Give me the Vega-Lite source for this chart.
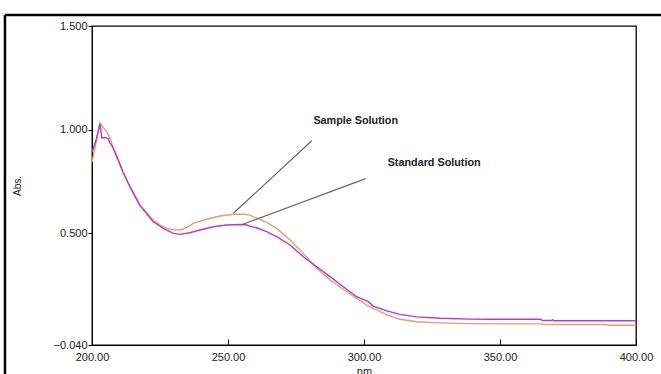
{
  "$schema": "https://vega.github.io/schema/vega-lite/v6.json",
  "width": 544,
  "height": 319,
  "autosize": "none",
  "padding": {"left": 92, "top": 26, "right": 25, "bottom": 29},
  "background": "white",
  "config": {
    "view": {"stroke": "black", "strokeWidth": 1.3},
    "font": "Liberation Sans",
    "axis": {"grid": false, "labelFont": "Liberation Sans", "titleFont": "Liberation Sans", "labelColor": "#222", "titleColor": "#222", "domainColor": "black", "tickColor": "black", "titleFontWeight": "normal"}
  },
  "datasets": {
    "spectra": [
      {"nm": 200.0, "abs": 0.843, "solution": "Sample Solution"},
      {"nm": 201.5, "abs": 0.94, "solution": "Sample Solution"},
      {"nm": 202.9, "abs": 1.033, "solution": "Sample Solution"},
      {"nm": 203.8, "abs": 1.015, "solution": "Sample Solution"},
      {"nm": 204.8, "abs": 1.0, "solution": "Sample Solution"},
      {"nm": 205.5, "abs": 0.988, "solution": "Sample Solution"},
      {"nm": 206.6, "abs": 0.96, "solution": "Sample Solution"},
      {"nm": 207.7, "abs": 0.916, "solution": "Sample Solution"},
      {"nm": 209.2, "abs": 0.867, "solution": "Sample Solution"},
      {"nm": 211.4, "abs": 0.795, "solution": "Sample Solution"},
      {"nm": 214.0, "abs": 0.723, "solution": "Sample Solution"},
      {"nm": 217.6, "abs": 0.636, "solution": "Sample Solution"},
      {"nm": 220.2, "abs": 0.597, "solution": "Sample Solution"},
      {"nm": 222.5, "abs": 0.563, "solution": "Sample Solution"},
      {"nm": 225.0, "abs": 0.539, "solution": "Sample Solution"},
      {"nm": 227.5, "abs": 0.523, "solution": "Sample Solution"},
      {"nm": 230.0, "abs": 0.516, "solution": "Sample Solution"},
      {"nm": 232.4, "abs": 0.515, "solution": "Sample Solution"},
      {"nm": 233.6, "abs": 0.52, "solution": "Sample Solution"},
      {"nm": 236.0, "abs": 0.536, "solution": "Sample Solution"},
      {"nm": 237.2, "abs": 0.547, "solution": "Sample Solution"},
      {"nm": 242.2, "abs": 0.567, "solution": "Sample Solution"},
      {"nm": 247.1, "abs": 0.583, "solution": "Sample Solution"},
      {"nm": 252.0, "abs": 0.591, "solution": "Sample Solution"},
      {"nm": 255.6, "abs": 0.591, "solution": "Sample Solution"},
      {"nm": 258.1, "abs": 0.587, "solution": "Sample Solution"},
      {"nm": 259.3, "abs": 0.579, "solution": "Sample Solution"},
      {"nm": 262.0, "abs": 0.565, "solution": "Sample Solution"},
      {"nm": 264.5, "abs": 0.55, "solution": "Sample Solution"},
      {"nm": 267.9, "abs": 0.523, "solution": "Sample Solution"},
      {"nm": 272.8, "abs": 0.467, "solution": "Sample Solution"},
      {"nm": 277.7, "abs": 0.402, "solution": "Sample Solution"},
      {"nm": 282.6, "abs": 0.33, "solution": "Sample Solution"},
      {"nm": 287.5, "abs": 0.274, "solution": "Sample Solution"},
      {"nm": 292.4, "abs": 0.229, "solution": "Sample Solution"},
      {"nm": 297.3, "abs": 0.185, "solution": "Sample Solution"},
      {"nm": 301.0, "abs": 0.153, "solution": "Sample Solution"},
      {"nm": 303.4, "abs": 0.137, "solution": "Sample Solution"},
      {"nm": 308.4, "abs": 0.105, "solution": "Sample Solution"},
      {"nm": 313.2, "abs": 0.084, "solution": "Sample Solution"},
      {"nm": 319.4, "abs": 0.072, "solution": "Sample Solution"},
      {"nm": 327.9, "abs": 0.067, "solution": "Sample Solution"},
      {"nm": 339.0, "abs": 0.063, "solution": "Sample Solution"},
      {"nm": 350.0, "abs": 0.062, "solution": "Sample Solution"},
      {"nm": 365.0, "abs": 0.062, "solution": "Sample Solution"},
      {"nm": 366.0, "abs": 0.059, "solution": "Sample Solution"},
      {"nm": 389.0, "abs": 0.059, "solution": "Sample Solution"},
      {"nm": 390.0, "abs": 0.055, "solution": "Sample Solution"},
      {"nm": 400.0, "abs": 0.055, "solution": "Sample Solution"},
      {"nm": 200.0, "abs": 0.892, "solution": "Standard Solution"},
      {"nm": 201.5, "abs": 0.95, "solution": "Standard Solution"},
      {"nm": 203.0, "abs": 1.027, "solution": "Standard Solution"},
      {"nm": 203.6, "abs": 0.96, "solution": "Standard Solution"},
      {"nm": 204.5, "abs": 0.962, "solution": "Standard Solution"},
      {"nm": 205.9, "abs": 0.958, "solution": "Standard Solution"},
      {"nm": 206.6, "abs": 0.935, "solution": "Standard Solution"},
      {"nm": 207.7, "abs": 0.914, "solution": "Standard Solution"},
      {"nm": 209.2, "abs": 0.867, "solution": "Standard Solution"},
      {"nm": 211.4, "abs": 0.795, "solution": "Standard Solution"},
      {"nm": 214.0, "abs": 0.723, "solution": "Standard Solution"},
      {"nm": 217.6, "abs": 0.634, "solution": "Standard Solution"},
      {"nm": 222.5, "abs": 0.555, "solution": "Standard Solution"},
      {"nm": 226.2, "abs": 0.523, "solution": "Standard Solution"},
      {"nm": 229.9, "abs": 0.499, "solution": "Standard Solution"},
      {"nm": 232.4, "abs": 0.494, "solution": "Standard Solution"},
      {"nm": 236.0, "abs": 0.502, "solution": "Standard Solution"},
      {"nm": 239.7, "abs": 0.515, "solution": "Standard Solution"},
      {"nm": 244.6, "abs": 0.531, "solution": "Standard Solution"},
      {"nm": 249.5, "abs": 0.539, "solution": "Standard Solution"},
      {"nm": 254.4, "abs": 0.542, "solution": "Standard Solution"},
      {"nm": 256.9, "abs": 0.539, "solution": "Standard Solution"},
      {"nm": 258.1, "abs": 0.534, "solution": "Standard Solution"},
      {"nm": 260.5, "abs": 0.526, "solution": "Standard Solution"},
      {"nm": 264.2, "abs": 0.507, "solution": "Standard Solution"},
      {"nm": 267.9, "abs": 0.483, "solution": "Standard Solution"},
      {"nm": 272.8, "abs": 0.443, "solution": "Standard Solution"},
      {"nm": 277.7, "abs": 0.386, "solution": "Standard Solution"},
      {"nm": 282.6, "abs": 0.338, "solution": "Standard Solution"},
      {"nm": 287.5, "abs": 0.29, "solution": "Standard Solution"},
      {"nm": 292.4, "abs": 0.241, "solution": "Standard Solution"},
      {"nm": 297.3, "abs": 0.193, "solution": "Standard Solution"},
      {"nm": 301.6, "abs": 0.169, "solution": "Standard Solution"},
      {"nm": 303.4, "abs": 0.148, "solution": "Standard Solution"},
      {"nm": 308.4, "abs": 0.125, "solution": "Standard Solution"},
      {"nm": 313.2, "abs": 0.108, "solution": "Standard Solution"},
      {"nm": 319.4, "abs": 0.096, "solution": "Standard Solution"},
      {"nm": 327.9, "abs": 0.089, "solution": "Standard Solution"},
      {"nm": 339.0, "abs": 0.085, "solution": "Standard Solution"},
      {"nm": 346.3, "abs": 0.084, "solution": "Standard Solution"},
      {"nm": 365.0, "abs": 0.084, "solution": "Standard Solution"},
      {"nm": 365.5, "abs": 0.078, "solution": "Standard Solution"},
      {"nm": 369.0, "abs": 0.078, "solution": "Standard Solution"},
      {"nm": 369.3, "abs": 0.082, "solution": "Standard Solution"},
      {"nm": 369.8, "abs": 0.077, "solution": "Standard Solution"},
      {"nm": 400.0, "abs": 0.077, "solution": "Standard Solution"}
    ],
    "annotations": [
      {"label": "Sample Solution", "tx": 281.4, "ty": 1.041, "x1": 280.8, "y1": 0.946, "x2": 252.0, "y2": 0.596},
      {"label": "Standard Solution", "tx": 308.7, "ty": 0.838, "x1": 300.6, "y1": 0.763, "x2": 255.4, "y2": 0.543}
    ],
    "frame": [
      {"side": "left", "x1": 168, "x2": 168, "y1": 1.553, "y2": -0.3},
      {"side": "top", "x1": 168, "x2": 412, "y1": 1.553, "y2": 1.553}
    ]
  },
  "layer": [
    {
      "data": {"name": "frame"},
      "mark": {"type": "rule", "color": "black", "strokeWidth": 2.5, "clip": false},
      "encoding": {
        "x": {"field": "x1", "type": "quantitative", "scale": {"domain": [200, 400], "nice": false, "zero": false, "clamp": false}},
        "y": {"field": "y1", "type": "quantitative", "scale": {"domain": [-0.04, 1.5], "nice": false, "zero": false, "clamp": false}},
        "x2": {"field": "x2"},
        "y2": {"field": "y2"}
      }
    },
    {
      "mark": {"type": "rule", "color": "black", "strokeWidth": 1.5},
      "encoding": {
        "y": {"datum": 0, "type": "quantitative", "scale": {"domain": [-0.04, 1.5], "nice": false, "zero": false, "clamp": false}}
      }
    },
    {
      "mark": {"type": "rule", "color": "#8a8a8a", "strokeWidth": 2},
      "encoding": {
        "x": {"datum": 400, "type": "quantitative", "scale": {"domain": [200, 400], "nice": false, "zero": false, "clamp": false}}
      }
    },
    {
      "data": {"name": "spectra"},
      "mark": {"type": "line", "strokeWidth": 1.4},
      "encoding": {
        "x": {
          "field": "nm", "type": "quantitative",
          "scale": {"domain": [200, 400], "nice": false, "zero": false, "clamp": false},
          "axis": {"title": "nm", "values": [200, 250, 300, 350, 400], "format": ".2f", "labelFontSize": 11, "titleFontSize": 11, "tickSize": -6, "labelPadding": 12, "titlePadding": 3, "labelFlush": false}
        },
        "y": {
          "field": "abs", "type": "quantitative",
          "scale": {"domain": [-0.04, 1.5], "nice": false, "zero": false, "clamp": false},
          "axis": {"title": "Abs.", "values": [-0.04, 0.5, 1.0, 1.5], "format": ".3f", "labelFontSize": 11, "titleFontSize": 10, "tickSize": 4, "labelPadding": 1, "titleX": -75, "titleY": 159.5, "titleAngle": -90, "titleBaseline": "middle", "titleAlign": "center"}
        },
        "color": {
          "field": "solution", "type": "nominal",
          "scale": {"domain": ["Sample Solution", "Standard Solution"], "range": ["#d9a272", "#bd36c6"]},
          "legend": null
        }
      }
    },
    {
      "data": {"name": "annotations"},
      "mark": {"type": "rule", "color": "#666666", "strokeWidth": 1.2},
      "encoding": {
        "x": {"field": "x1", "type": "quantitative", "scale": {"domain": [200, 400], "nice": false, "zero": false, "clamp": false}},
        "y": {"field": "y1", "type": "quantitative", "scale": {"domain": [-0.04, 1.5], "nice": false, "zero": false, "clamp": false}},
        "x2": {"field": "x2"},
        "y2": {"field": "y2"}
      }
    },
    {
      "data": {"name": "annotations"},
      "mark": {"type": "text", "align": "left", "baseline": "middle", "font": "Liberation Sans", "fontWeight": "bold", "fontSize": 10.8, "color": "#222"},
      "encoding": {
        "x": {"field": "tx", "type": "quantitative", "scale": {"domain": [200, 400], "nice": false, "zero": false, "clamp": false}},
        "y": {"field": "ty", "type": "quantitative", "scale": {"domain": [-0.04, 1.5], "nice": false, "zero": false, "clamp": false}},
        "text": {"field": "label"}
      }
    }
  ]
}
